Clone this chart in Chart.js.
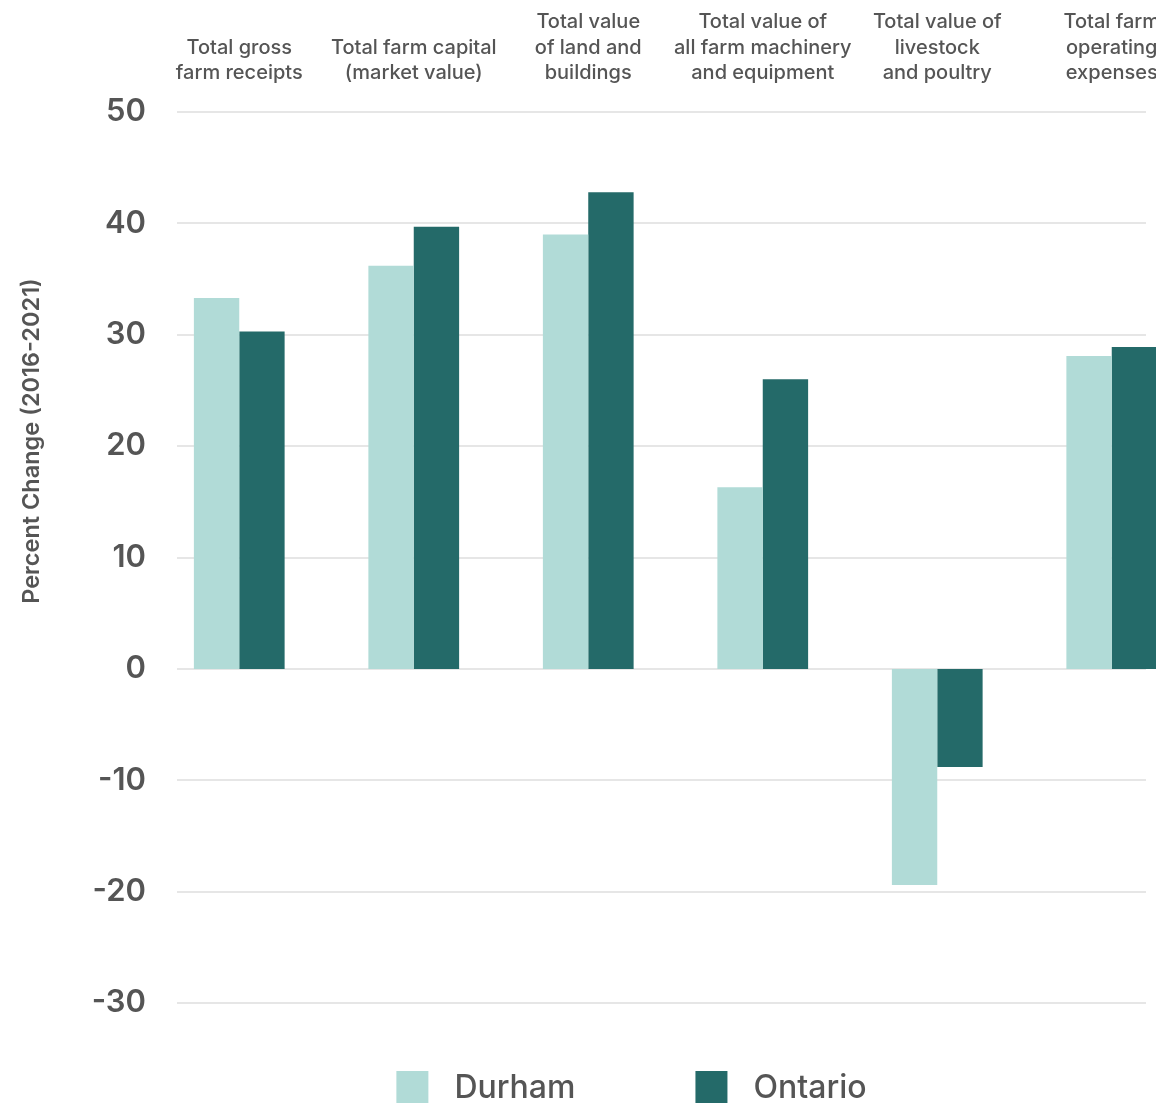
<!DOCTYPE html>
<html>
<head>
<meta charset="utf-8">
<title>Farm finances, percent change 2016-2021</title>
<script src="https://cdn.jsdelivr.net/npm/chart.js@4.4.0/dist/chart.umd.min.js"></script>
<style>
  html, body { margin: 0; padding: 0; background: #fff; overflow: hidden; }
  canvas { display: block; }
</style>
</head>
<body>
<canvas id="farmChart" width="1263" height="1103"></canvas>
<script>
// Data
const categories = [
  ["Total gross", "farm receipts"],
  ["Total farm capital", "(market value)"],
  ["Total value", "of land and", "buildings"],
  ["Total value of", "all farm machinery", "and equipment"],
  ["Total value of", "livestock", "and poultry"],
  ["Total farm", "operating", "expenses"]
];
const durhamValues = [33.3, 36.2, 39.0, 16.3, -19.4, 28.1];
const ontarioValues = [30.3, 39.7, 42.8, 26.0, -8.8, 28.9];
const seriesNames = ["Durham", "Ontario"];
const yMin = -30;
const yMax = 50;
const yStep = 10;
const yTitle = "Percent Change (2016-2021)";

const textColor = "#555555";
const fontFamily = "Inter, 'Noto Sans', sans-serif";

// Light grey grid, a bit inset from the plot edges
const gridPlugin = {
  id: "insetGrid",
  beforeDatasetsDraw(chart) {
    const { ctx, chartArea, scales } = chart;
    const x0 = chartArea.left + 25;
    const x1 = chartArea.right - 53;
    ctx.save();
    ctx.strokeStyle = "#e6e6e6";
    ctx.lineWidth = 2;
    scales.y.ticks.forEach(t => {
      const y = Math.round(scales.y.getPixelForValue(t.value));
      ctx.beginPath();
      ctx.moveTo(x0, y);
      ctx.lineTo(x1, y);
      ctx.stroke();
    });
    ctx.restore();
  }
};

// Y axis title and legend
const extrasPlugin = {
  id: "extras",
  afterDraw(chart) {
    const { ctx, chartArea } = chart;
    ctx.save();
    ctx.fillStyle = textColor;
    ctx.font = "600 23.5px " + fontFamily;
    ctx.textAlign = "center";
    ctx.textBaseline = "middle";
    ctx.translate(32, 441);
    ctx.rotate(-Math.PI / 2);
    ctx.fillText(yTitle, 0, 0);
    ctx.restore();

    // legend row
    ctx.save();
    ctx.font = "500 32px " + fontFamily;
    ctx.textBaseline = "middle";
    ctx.textAlign = "left";
    const box = 32, gap = 26, itemGap = 120;
    const items = chart.data.datasets.map(ds => ({
      text: ds.label,
      color: ds.backgroundColor,
      w: box + gap + ctx.measureText(ds.label).width
    }));
    const total = items.reduce((s, it) => s + it.w, 0) + itemGap * (items.length - 1);
    let x = chart.width / 2 - total / 2;
    const cy = chartArea.bottom + 84;
    items.forEach(it => {
      ctx.fillStyle = it.color;
      ctx.fillRect(x, cy - box / 2, box, box);
      ctx.fillStyle = textColor;
      ctx.fillText(it.text, x + box + gap, cy + 1);
      x += it.w + itemGap;
    });
    ctx.restore();
  }
};

const chart = new Chart(document.getElementById("farmChart").getContext("2d"), {
  type: "bar",
  data: {
    labels: categories,
    datasets: [
      { label: seriesNames[0], data: durhamValues, backgroundColor: "#b1dbd7" },
      { label: seriesNames[1], data: ontarioValues, backgroundColor: "#246a69" }
    ]
  },
  options: {
    responsive: false,
    animation: false,
    events: [],
    layout: { padding: { top: 0, left: 0, right: 0, bottom: 100 } },
    categoryPercentage: 0.52,
    barPercentage: 1.0,
    plugins: {
      legend: { display: false },
      tooltip: { enabled: false }
    },
    scales: {
      x: {
        position: "top",
        grid: { display: false, drawTicks: false },
        border: { display: false },
        ticks: {
          color: textColor,
          font: { family: fontFamily, size: 20, weight: 500, lineHeight: 1.275 },
          padding: 26,
          maxRotation: 0,
          autoSkip: false
        },
        afterFit(scale) { scale.height = 112; }
      },
      y: {
        min: yMin,
        max: yMax,
        grid: { display: false, drawTicks: false },
        border: { display: false },
        ticks: {
          stepSize: yStep,
          color: textColor,
          font: { family: fontFamily, size: 31, weight: 600 },
          padding: 6
        },
        afterFit(scale) { scale.width = 152; }
      },
      yRight: {
        position: "right",
        display: true,
        grid: { display: false, drawTicks: false },
        border: { display: false },
        ticks: { display: false },
        afterFit(scale) { scale.width = 64; }
      }
    }
  },
  plugins: [gridPlugin, extrasPlugin]
});
</script>
</body>
</html>
